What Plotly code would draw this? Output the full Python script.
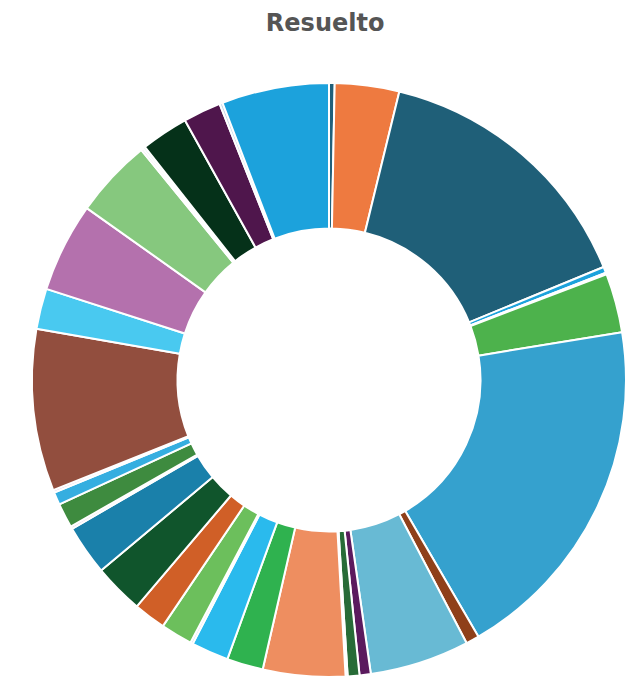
import plotly.graph_objects as go

# Slice values (in drawing order, clockwise from 12 o'clock)
categorias = [f"Categoría {i}" for i in range(1, 35)]
valores = [
    1.1, 12.6, 53.9, 1.2, 0.3, 11.6, 69.0, 2.6, 19.5, 2.2,
    2.3, 0.4, 16.1, 7.1, 7.3, 0.5, 6.2, 6.3, 9.8, 9.8,
    0.5, 4.8, 2.5, 0.5, 31.7, 7.9, 17.5, 15.4, 0.45, 0.45,
    9.3, 7.4, 0.6, 21.0,
]
colores = [
    "#21607a", "#ee7a40", "#1f5f78", "#1ca2dc", "#e9c6dd", "#4db24c", "#35a1ce", "#8f401a",
    "#68bad4", "#5b1a5e", "#276b37", "#bcd6ea", "#ee8e60", "#2fb24f", "#2abaed", "#d9d9e9",
    "#6cbf5c", "#d05f27", "#10552c", "#1a80aa", "#e7cde6", "#3e8b3f", "#35aee0", "#e7cde6",
    "#924e3e", "#49c9f0", "#b471ad", "#86c87e", "#d9d0e0", "#c9d3e0", "#053119", "#4f164c",
    "#c8d8e8", "#1ca2dc",
]

fig = go.Figure(go.Pie(
    labels=categorias,
    values=valores,
    hole=0.51,
    sort=False,
    direction="clockwise",
    rotation=0,
    textinfo="none",
    marker=dict(colors=colores, line=dict(color="white", width=2)),
))

fig.update_layout(
    width=642,
    height=679,
    showlegend=False,
    paper_bgcolor="white",
    margin=dict(l=24, r=24, t=75, b=10),
    title=dict(
        text="<b>Resuelto</b>",
        x=0.494,
        xanchor="center",
        y=0.979,
        yanchor="middle",
        font=dict(family="DejaVu Sans", size=24, color="#555555"),
    ),
)

fig.write_html("out.html")
